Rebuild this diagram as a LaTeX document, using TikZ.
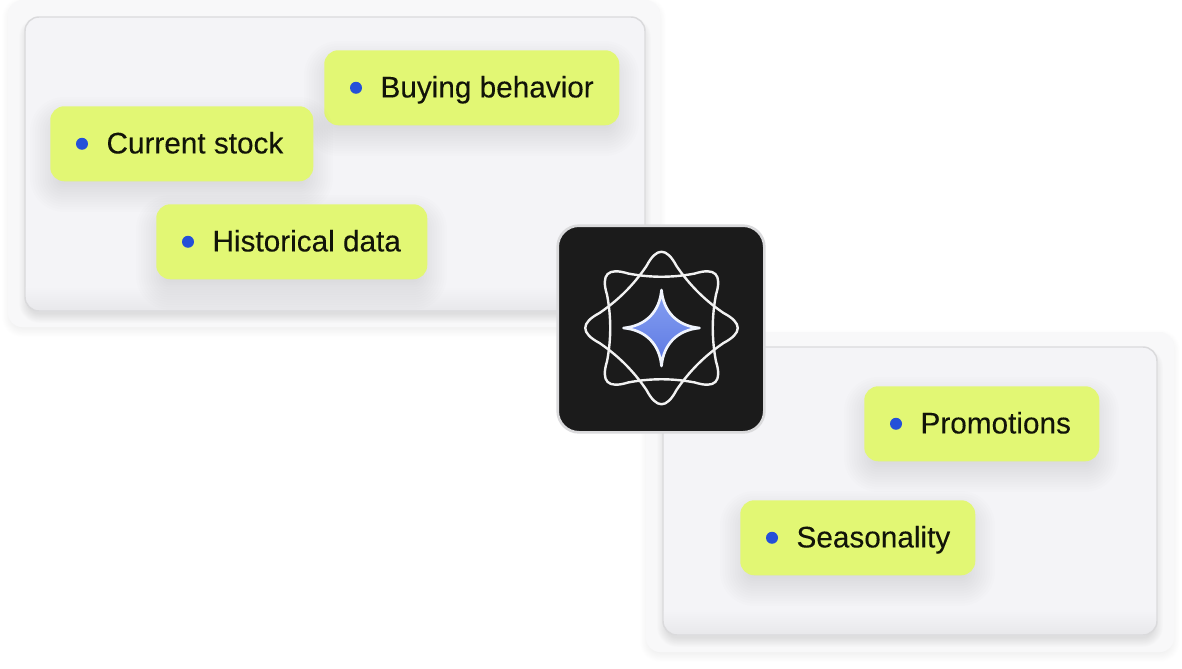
\documentclass[tikz,border=0pt]{standalone}
\usepackage{fontspec}
\setmainfont[FakeBold=0.15]{Liberation Sans}
\usetikzlibrary{positioning}
\definecolor{chipgreen}{HTML}{E2F774}
\definecolor{dotblue}{HTML}{2450D8}
\definecolor{panelfill}{HTML}{F4F4F7}
\definecolor{outerfill}{HTML}{F8F8F9}
\definecolor{panelline}{HTML}{DADADC}
\definecolor{icondark}{HTML}{1B1B1B}
\definecolor{starhi}{HTML}{86A0F2}
\definecolor{starlo}{HTML}{5C78E2}
\newcommand{\softshadow}[6]{% x0 y0 x1 y1 drop spread
    \foreach \i in {-4,...,8}
        \fill[softlayer, rounded corners=10.5pt+\i*0.75pt*#6/2]
            ({#1-\i*#6/2},{#2+#5-\i*#6/2}) rectangle ({#3+\i*#6/2},{#4+#5+\i*#6/2});
}
\newcommand{\panelbox}[9]{% name, outer x0 y0 x1 y1, inner x0 y0 x1 y1
    \begin{scope}[softlayer/.style={black, opacity=0.0025}]
        \softshadow{#2}{#3}{#4}{#5}{4}{1.5}
    \end{scope}
    \fill[outerfill, rounded corners=10.5pt] (#2,#3) rectangle (#4,#5);
    \begin{scope}
        \clip[rounded corners=10.5pt] (#2,#3) rectangle (#4,#5);
        \softshadow{#6}{#7}{#8}{#9}{6}{1.5}
    \end{scope}
    \node[panel, minimum width=(#8-#6)*0.75pt, minimum height=(#9-#7)*0.75pt,
        anchor=north west] (#1) at (#6,#7) {};
    \begin{scope}
        \clip[rounded corners=10.5pt] (#6,#7) rectangle (#8,#9);
        \fill[top color=panelfill, bottom color=black!5!panelfill] (#6,#9-24) rectangle (#8,#9);
    \end{scope}
    \draw[panelline, line width=1.1pt, rounded corners=10.5pt] (#6,#7) rectangle (#8,#9);
}
\newcommand{\chipbox}[6]{% name x0 y0 x1 y1 text
    \softshadow{#2}{#3}{#4}{#5}{11}{5}
    \node[chip, minimum width=(#4-#2)*0.75pt, minimum height=(#5-#3)*0.75pt,
        anchor=north west] (#1) at (#2,#3) {};
    \node[pdot] (#1dot) at ([xshift=24pt]#1.west) {};
    \node[lbl, right=13.5pt of #1dot] (#1lbl) {#6};
}

\begin{document}
\begin{tikzpicture}[x=0.75pt, y=-0.75pt,
        softlayer/.style={black, opacity=0.009},
        panel/.style={fill=panelfill, rounded corners=10.5pt, inner sep=0pt},
        chip/.style={fill=chipgreen, rounded corners=10.5pt, inner sep=0pt},
        pdot/.style={circle, fill=dotblue, minimum size=9pt, inner sep=0pt},
        lbl/.style={inner sep=0pt, text height=18pt, text depth=3.5pt,
            text=black!92!chipgreen, font=\fontsize{22.3pt}{26pt}\selectfont},
        iconline/.style={draw=white!95!black, line width=1.8pt}]
    \useasboundingbox (0,0) rectangle (1182,668);

    \panelbox{leftpanel}{8}{0}{660}{327}{25}{17}{645}{311}
    \chipbox{buying}{324}{50}{619}{125}{Buying behavior}
    \chipbox{current}{50}{106}{313}{181}{Current stock}
    \chipbox{historical}{156}{204}{427}{279}{Historical data}

    \panelbox{rightpanel}{646}{332}{1174}{652}{663}{347}{1157}{635}
    \chipbox{promo}{864}{386}{1099}{461}{Promotions}
    \chipbox{season}{740}{500}{975}{575}{Seasonality}

    % icon
    \node[draw=panelline, line width=2pt, fill=icondark, rounded corners=16pt,
        minimum size=155pt, inner sep=0pt] (icon) at (661,329) {};
    \coordinate (mid) at (661.5,328);
    \foreach \a in {0,45}
        \draw[iconline, shift={(mid)}, rotate=\a]
            (15,-62) .. controls (28,-43) and (43,-28) .. (62,-15)
            .. controls (81,-5) and (81,5) .. (62,15)
            .. controls (43,28) and (28,43) .. (15,62)
            .. controls (5,81) and (-5,81) .. (-15,62)
            .. controls (-28,43) and (-43,28) .. (-62,15)
            .. controls (-81,5) and (-81,-5) .. (-62,-15)
            .. controls (-43,-28) and (-28,-43) .. (-15,-62)
            .. controls (-5,-81) and (5,-81) .. (15,-62) -- cycle;
    \draw[draw=white!88!starhi, line width=2pt, line join=round, top color=starhi, bottom color=starlo,
        shift={(mid)}]
        (0,-38) .. controls (2,-16) and (16,-2) .. (38,0)
        .. controls (16,2) and (2,16) .. (0,38)
        .. controls (-2,16) and (-16,2) .. (-38,0)
        .. controls (-16,-2) and (-2,-16) .. (0,-38) -- cycle;
\end{tikzpicture}
\end{document}
